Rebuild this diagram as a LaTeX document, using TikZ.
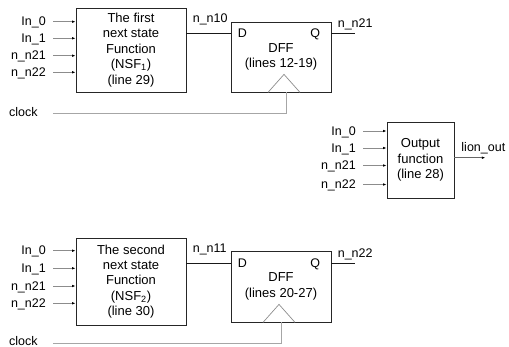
\documentclass[tikz,border=0pt]{standalone}
\usepackage{fontspec}
\setmainfont{Liberation Sans}
\usetikzlibrary{positioning,calc}
\usetikzlibrary{arrows.meta}
\tikzset{
	block/.style={draw=black!85,line width=0.8pt,align=center,inner sep=2pt,font=\fontsize{13}{15.4}\selectfont},
	nsf/.style={block,minimum width=110pt,minimum height=84pt},
	dff/.style={block,minimum width=100pt,minimum height=70pt},
	outfn/.style={block,minimum width=67pt,minimum height=76pt},
	sig/.style={inner sep=0pt,text height=8.5pt,text depth=0pt,font=\fontsize{12.5}{15}\selectfont},
	wirelbl/.style={sig,anchor=base west},
	inwire/.style={draw=black!45,line width=0.7pt,shorten <=7pt,-{Latex[length=3.5pt,width=2.6pt,color=black]}},
	outwire/.style={draw=black!60,line width=0.7pt,-{Latex[length=3.5pt,width=2.6pt,color=black]}},
	wire/.style={draw=black!90,line width=0.8pt},
	clkwire/.style={draw=black!35,line width=0.7pt,shorten <=15pt},
	clktri/.style={draw=black!45,line width=0.7pt},
}

\begin{document}
\begin{tikzpicture}[x=1pt,y=-1pt]
	\useasboundingbox (0,0) rectangle (509,347);
	
	% First next state function
	\node[nsf] (nsf1) at (131,50) {The first\\next state\\Function\\(NSF\textsubscript{1})\\(line 29)};
	\node[sig,anchor=east] (a0) at (46,21.7) {In\_0};
	\node[sig,anchor=east] (a1) at (46,38.3) {In\_1};
	\node[sig,anchor=east] (a21) at (46,55.7) {n\_n21};
	\node[sig,anchor=east] (a22) at (46,72.3) {n\_n22};
	\draw[inwire] (a0) -- (a0 -| nsf1.west);
	\draw[inwire] (a1) -- (a1 -| nsf1.west);
	\draw[inwire] (a21) -- (a21 -| nsf1.west);
	\draw[inwire] (a22) -- (a22 -| nsf1.west);
	
	% First DFF
	\node[dff] (dff1) at (281,57) {DFF\\(lines 12-19)};
	\coordinate (d1in) at ([yshift=-12pt]dff1.north west);
	\coordinate (q1out) at ([yshift=-12pt]dff1.north east);
	\coordinate (q1end) at ([xshift=24pt]q1out);
	\node[sig,anchor=west] (d1) at ([xshift=7pt]d1in) {D};
	\node[sig,anchor=east] (q1) at ([xshift=-11pt]q1out) {Q};
	\draw[wire] (nsf1.east |- d1in) node[wirelbl,xshift=6pt,yshift=11pt] (n10) {n\_n10} -- (d1in);
	\draw[wire] (q1out) node[wirelbl,xshift=6pt,yshift=6.5pt] (n21) {n\_n21} -- (q1end);
	\draw[clktri] ([xshift=-13pt]dff1.south) -- ([xshift=3pt,yshift=18pt]dff1.south) -- ([xshift=19pt]dff1.south);
	\node[sig,anchor=west] (clk1) at (9,112.2) {clock};
	\draw[clkwire] ([yshift=-1.5pt]clk1.east) -| ([xshift=5.7pt]dff1.south);
	
	% Output function
	\node[outfn] (ofn) at (420.5,160) {Output\\function\\(line 28)};
	\node[sig,anchor=east] (o0) at (356,131) {In\_0};
	\node[sig,anchor=east] (o1) at (356,148) {In\_1};
	\node[sig,anchor=east] (o21) at (356,165.5) {n\_n21};
	\node[sig,anchor=east] (o22) at (356,184.5) {n\_n22};
	\draw[inwire] (o0) -- (o0 -| ofn.west);
	\draw[inwire] (o1) -- (o1 -| ofn.west);
	\draw[inwire] (o21) -- (o21 -| ofn.west);
	\draw[inwire] (o22) -- (o22 -| ofn.west);
	\coordinate (lout) at ([xshift=31pt,yshift=2.3pt]ofn.east);
	\draw[outwire] ([yshift=2.3pt]ofn.east) node[wirelbl,xshift=6.7pt,yshift=6pt] (lion) {lion\_out} -- (lout);
	
	% Second next state function
	\node[nsf,minimum height=87pt] (nsf2) at (131,281.5) {The second\\next state\\Function\\(NSF\textsubscript{2})\\(line 30)};
	\node[sig,anchor=east] (b0) at (46,250.7) {In\_0};
	\node[sig,anchor=east] (b1) at (46,268.3) {In\_1};
	\node[sig,anchor=east] (b21) at (46,286) {n\_n21};
	\node[sig,anchor=east] (b22) at (46,303.3) {n\_n22};
	\draw[inwire] (b0) -- (b0 -| nsf2.west);
	\draw[inwire] (b1) -- (b1 -| nsf2.west);
	\draw[inwire] (b21) -- (b21 -| nsf2.west);
	\draw[inwire] (b22) -- (b22 -| nsf2.west);
	
	% Second DFF
	\node[dff,minimum height=71pt] (dff2) at (281,286.5) {DFF\\(lines 20-27)};
	\coordinate (d2in) at ([yshift=-13pt]dff2.north west);
	\coordinate (q2out) at ([yshift=-13pt]dff2.north east);
	\coordinate (q2end) at ([xshift=24pt]q2out);
	\node[sig,anchor=west] (d2) at ([xshift=7pt]d2in) {D};
	\node[sig,anchor=east] (q2) at ([xshift=-11pt]q2out) {Q};
	\draw[wire] (nsf2.east |- d2in) node[wirelbl,xshift=6pt,yshift=11pt] (n11) {n\_n11} -- (d2in);
	\draw[wire] (q2out) node[wirelbl,xshift=6pt,yshift=6.5pt] (n22) {n\_n22} -- (q2end);
	\draw[clktri] ([xshift=-18pt]dff2.south) -- ([xshift=-2pt,yshift=18pt]dff2.south) -- ([xshift=14pt]dff2.south);
	\node[sig,anchor=west] (clk2) at (9,340.8) {clock};
	\draw[clkwire] ([yshift=-2.5pt]clk2.east) -| (dff2.south);
\end{tikzpicture}
\end{document}
